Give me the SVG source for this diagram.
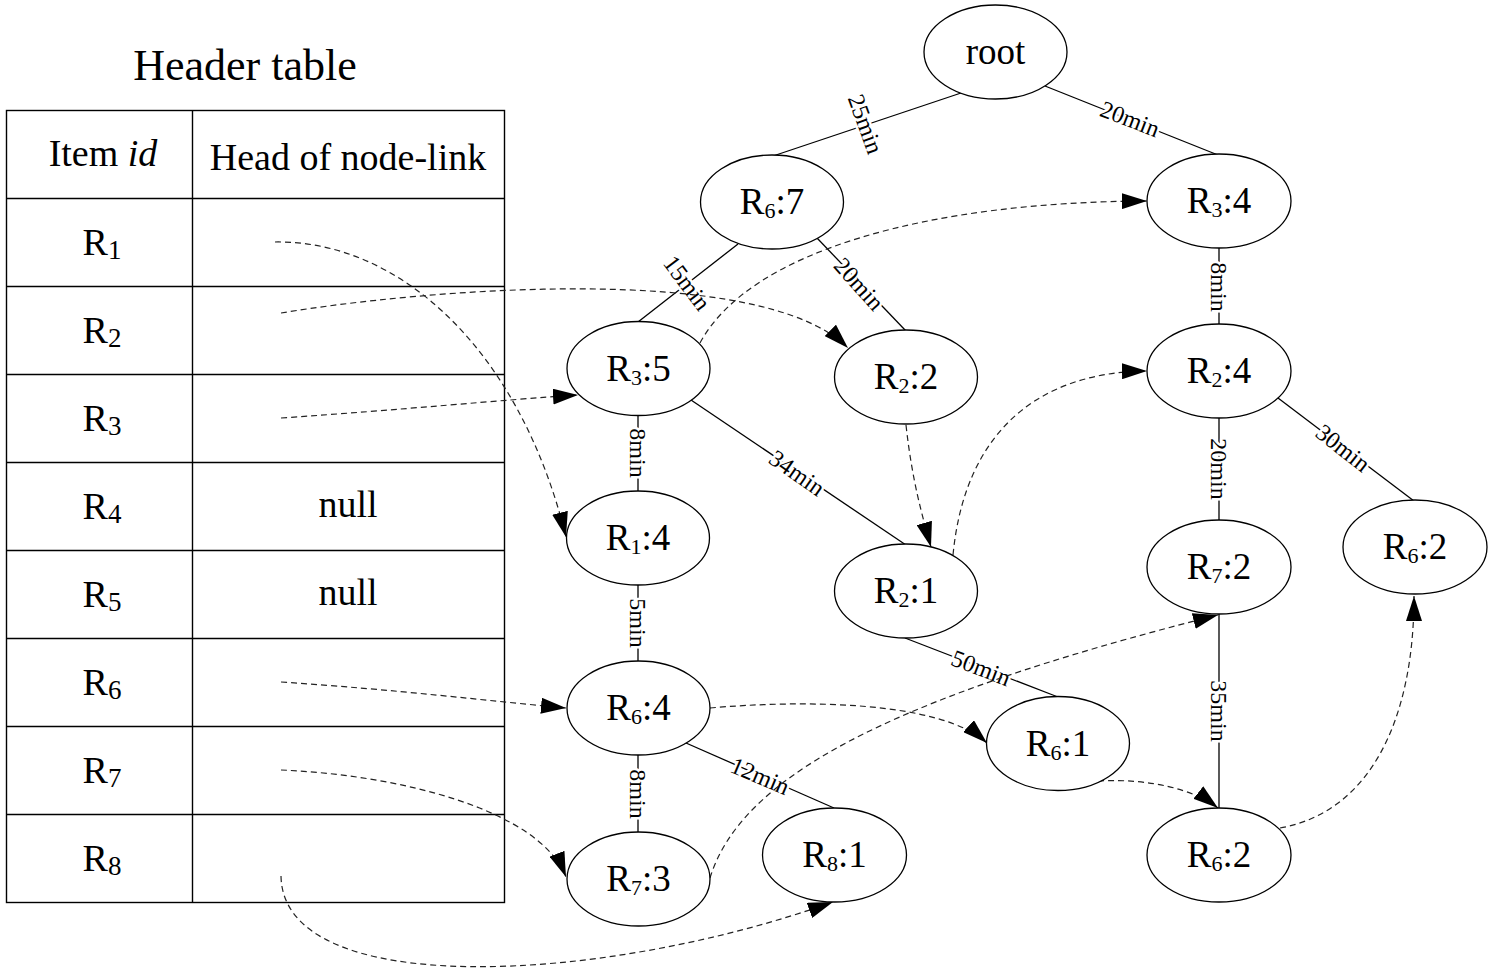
<svg xmlns="http://www.w3.org/2000/svg" width="1497" height="971" viewBox="0 0 1497 971">
<style>
.bg{fill:#ffffff}
.node ellipse{fill:#ffffff;stroke:#000;stroke-width:1.3}
.nt{font-family:"Liberation Serif","Times New Roman",serif;font-size:37px;text-anchor:middle;fill:#000}
.sub{font-size:22px}
.tt{font-family:"Liberation Serif","Times New Roman",serif;font-size:38px;text-anchor:middle;fill:#000}
.tsub{font-size:27px}
.grid{fill:none;stroke:#000;stroke-width:1.4}
.edge{fill:none;stroke:#000;stroke-width:1.3}
.link{fill:none;stroke:#222;stroke-width:1.2;stroke-dasharray:6,4;marker-end:url(#arr)}
.el{font-family:"Liberation Serif","Times New Roman",serif;font-size:24px;text-anchor:middle;fill:#000;stroke:#fff;stroke-width:5;paint-order:stroke;stroke-linejoin:round}
</style>
<defs>
<marker id="arr" markerUnits="userSpaceOnUse" markerWidth="25" markerHeight="16" refX="25" refY="8" orient="auto">
<path d="M0,0 L25,8 L0,16 z" fill="#000"/>
</marker>
</defs>
<rect class="bg" x="0" y="0" width="1497" height="971"/>

<g id="header-table">
<text x="245" y="80" font-family="Liberation Serif, Times New Roman, serif" font-size="44" text-anchor="middle">Header table</text>
<rect class="grid" x="6.5" y="110.5" width="498" height="792"/>
<line class="grid" x1="192.5" y1="110.5" x2="192.5" y2="902.5"/>
<line class="grid" x1="6.5" y1="198.5" x2="504.5" y2="198.5"/>
<line class="grid" x1="6.5" y1="286.5" x2="504.5" y2="286.5"/>
<line class="grid" x1="6.5" y1="374.5" x2="504.5" y2="374.5"/>
<line class="grid" x1="6.5" y1="462.5" x2="504.5" y2="462.5"/>
<line class="grid" x1="6.5" y1="550.5" x2="504.5" y2="550.5"/>
<line class="grid" x1="6.5" y1="638.5" x2="504.5" y2="638.5"/>
<line class="grid" x1="6.5" y1="726.5" x2="504.5" y2="726.5"/>
<line class="grid" x1="6.5" y1="814.5" x2="504.5" y2="814.5"/>
<text class="tt" x="103" y="166" font-size="37">Item <tspan font-style="italic">id</tspan></text>
<text class="tt" x="348" y="170" font-size="37">Head of node-link</text>
<text class="tt" x="102" y="255">R<tspan class="tsub" dy="4">1</tspan></text>
<text class="tt" x="102" y="343">R<tspan class="tsub" dy="4">2</tspan></text>
<text class="tt" x="102" y="431">R<tspan class="tsub" dy="4">3</tspan></text>
<text class="tt" x="102" y="519">R<tspan class="tsub" dy="4">4</tspan></text>
<text class="tt" x="102" y="607">R<tspan class="tsub" dy="4">5</tspan></text>
<text class="tt" x="102" y="695">R<tspan class="tsub" dy="4">6</tspan></text>
<text class="tt" x="102" y="783">R<tspan class="tsub" dy="4">7</tspan></text>
<text class="tt" x="102" y="871">R<tspan class="tsub" dy="4">8</tspan></text>
<text class="tt" x="348" y="517">null</text>
<text class="tt" x="348" y="605">null</text>
</g>

<g id="connectors">
<path class="edge" d="M961,93 L773,156"/>
<path class="edge" d="M1045,86 L1218,155"/>
<path class="edge" d="M738,244 L638,322"/>
<path class="edge" d="M817,238 L906,331"/>
<path class="edge" d="M1219,248 L1219,325"/>
<path class="edge" d="M1219,418 L1219,521"/>
<path class="edge" d="M1278,398 L1414,501"/>
<path class="edge" d="M638,415 L638,492"/>
<path class="edge" d="M691,400 L906,545"/>
<path class="edge" d="M638,585 L638,662"/>
<path class="edge" d="M905,638 L1058,697"/>
<path class="edge" d="M638,755 L638,833"/>
<path class="edge" d="M686,743 L834,808"/>
<path class="edge" d="M1219,614 L1219,809"/>

<text class="el" transform="translate(865.5,124) rotate(70)" y="8">25min</text>
<text class="el" transform="translate(1130,119) rotate(21)" y="8">20min</text>
<text class="el" transform="translate(687,283) rotate(53)" y="8">15min</text>
<text class="el" transform="translate(859,284) rotate(48)" y="8">20min</text>
<text class="el" transform="translate(1219,287) rotate(90)" y="8">8min</text>
<text class="el" transform="translate(1219,469) rotate(90)" y="8">20min</text>
<text class="el" transform="translate(1343,448) rotate(38)" y="8">30min</text>
<text class="el" transform="translate(638,453) rotate(90)" y="8">8min</text>
<text class="el" transform="translate(797,473) rotate(35)" y="8">34min</text>
<text class="el" transform="translate(638,623) rotate(90)" y="8">5min</text>
<text class="el" transform="translate(981,668) rotate(21)" y="8">50min</text>
<text class="el" transform="translate(638,794) rotate(90)" y="8">8min</text>
<text class="el" transform="translate(760,776) rotate(23)" y="8">12min</text>
<text class="el" transform="translate(1219,711) rotate(90)" y="8">35min</text>

<path class="link" d="M275,242 C400,240 520,350 566,537"/>
<path class="link" d="M281,313 C420,290 760,260 848,348"/>
<path class="link" d="M281,418 C400,410 500,400 578,395"/>
<path class="link" d="M700,343 C750,250 930,202 1147,201"/>
<path class="link" d="M906,425 C912,480 922,515 931,547"/>
<path class="link" d="M953,555 C965,430 1040,372 1147,371"/>
<path class="link" d="M281,682 C400,690 480,700 566,708"/>
<path class="link" d="M710,708 C800,700 940,700 987,743"/>
<path class="link" d="M1098,781 C1150,778 1195,790 1218,808"/>
<path class="link" d="M1280,828 C1370,812 1414,720 1414,596"/>
<path class="link" d="M281,770 C400,775 540,810 566,877"/>
<path class="link" d="M710,878 C740,780 880,700 1218,615"/>
<path class="link" d="M281,876 C283,1000 600,985 833,902"/>
</g>

<g id="n-root" class="node"><ellipse cx="995.5" cy="52" rx="71.5" ry="47"/><text class="nt" x="995.5" y="64">root</text></g>
<g id="n-r6-7" class="node"><ellipse cx="772" cy="202" rx="71.5" ry="47"/><text class="nt" x="772" y="214">R<tspan class="sub" dy="4">6</tspan><tspan dy="-4">:7</tspan></text></g>
<g id="n-r3-4" class="node"><ellipse cx="1219" cy="201" rx="72" ry="47"/><text class="nt" x="1219" y="213">R<tspan class="sub" dy="4">3</tspan><tspan dy="-4">:4</tspan></text></g>
<g id="n-r3-5" class="node"><ellipse cx="638.5" cy="368.5" rx="71.5" ry="47"/><text class="nt" x="638.5" y="380.5">R<tspan class="sub" dy="4">3</tspan><tspan dy="-4">:5</tspan></text></g>
<g id="n-r2-2" class="node"><ellipse cx="906" cy="377" rx="71.5" ry="47"/><text class="nt" x="906" y="389">R<tspan class="sub" dy="4">2</tspan><tspan dy="-4">:2</tspan></text></g>
<g id="n-r2-4" class="node"><ellipse cx="1219" cy="371" rx="72" ry="47"/><text class="nt" x="1219" y="383">R<tspan class="sub" dy="4">2</tspan><tspan dy="-4">:4</tspan></text></g>
<g id="n-r6-2a" class="node"><ellipse cx="1415" cy="547" rx="72" ry="47"/><text class="nt" x="1415" y="559">R<tspan class="sub" dy="4">6</tspan><tspan dy="-4">:2</tspan></text></g>
<g id="n-r1-4" class="node"><ellipse cx="638" cy="538" rx="71.5" ry="47"/><text class="nt" x="638" y="550">R<tspan class="sub" dy="4">1</tspan><tspan dy="-4">:4</tspan></text></g>
<g id="n-r2-1" class="node"><ellipse cx="906" cy="591" rx="71.5" ry="47"/><text class="nt" x="906" y="603">R<tspan class="sub" dy="4">2</tspan><tspan dy="-4">:1</tspan></text></g>
<g id="n-r7-2" class="node"><ellipse cx="1219" cy="567" rx="72" ry="47"/><text class="nt" x="1219" y="579">R<tspan class="sub" dy="4">7</tspan><tspan dy="-4">:2</tspan></text></g>
<g id="n-r6-4" class="node"><ellipse cx="638.5" cy="708" rx="71.5" ry="47"/><text class="nt" x="638.5" y="720">R<tspan class="sub" dy="4">6</tspan><tspan dy="-4">:4</tspan></text></g>
<g id="n-r6-1" class="node"><ellipse cx="1058" cy="743.5" rx="71.5" ry="47"/><text class="nt" x="1058" y="755.5">R<tspan class="sub" dy="4">6</tspan><tspan dy="-4">:1</tspan></text></g>
<g id="n-r7-3" class="node"><ellipse cx="638.5" cy="879" rx="71.5" ry="47"/><text class="nt" x="638.5" y="891">R<tspan class="sub" dy="4">7</tspan><tspan dy="-4">:3</tspan></text></g>
<g id="n-r8-1" class="node"><ellipse cx="834.5" cy="855" rx="72" ry="47"/><text class="nt" x="834.5" y="867">R<tspan class="sub" dy="4">8</tspan><tspan dy="-4">:1</tspan></text></g>
<g id="n-r6-2b" class="node"><ellipse cx="1219" cy="855" rx="72" ry="47"/><text class="nt" x="1219" y="867">R<tspan class="sub" dy="4">6</tspan><tspan dy="-4">:2</tspan></text></g>
</svg>
